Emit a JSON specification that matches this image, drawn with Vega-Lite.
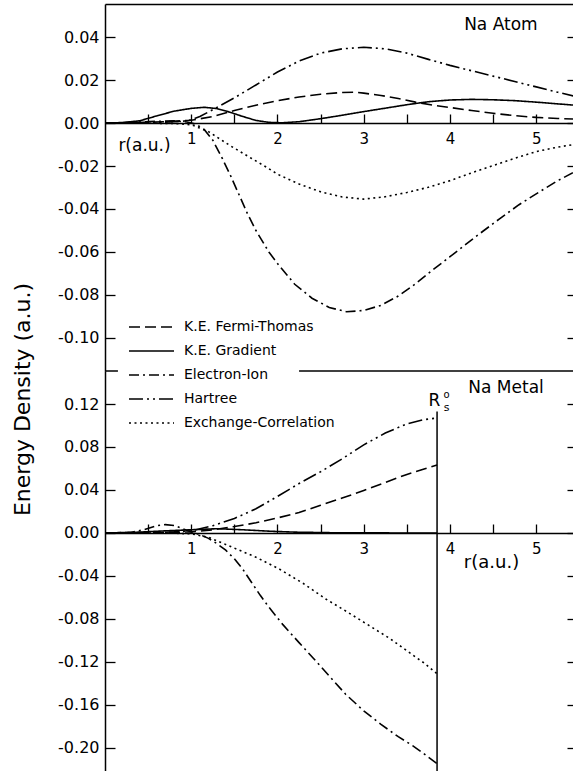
{
  "$schema": "https://vega.github.io/schema/vega-lite/v6.json",
  "background": "white",
  "padding": {"left": 11, "top": 4, "right": 0, "bottom": 0},
  "spacing": 0,
  "bounds": "flush",
  "config": {
    "font": "DejaVu Sans",
    "view": {"stroke": null},
    "axis": {"grid": false, "domainColor": "black", "tickColor": "black", "labelColor": "black", "titleColor": "black", "labelFont": "DejaVu Sans", "titleFont": "DejaVu Sans", "titleFontWeight": "normal", "domainWidth": 1.5, "tickWidth": 1.3, "labelFlush": false, "labelOverlap": false},
    "text": {"font": "DejaVu Sans", "fill": "black", "fontWeight": "normal"}
  },
  "datasets": {
    "atom": [
      {"s": "K.E. Fermi-Thomas", "r": 0, "e": 0}, {"s": "K.E. Fermi-Thomas", "r": 0.4, "e": 0.0002}, {"s": "K.E. Fermi-Thomas", "r": 0.7, "e": 0.0006}, {"s": "K.E. Fermi-Thomas", "r": 1.0, "e": 0.0013}, {"s": "K.E. Fermi-Thomas", "r": 1.25, "e": 0.003}, {"s": "K.E. Fermi-Thomas", "r": 1.5, "e": 0.0058}, {"s": "K.E. Fermi-Thomas", "r": 1.75, "e": 0.0083}, {"s": "K.E. Fermi-Thomas", "r": 2.0, "e": 0.0104}, {"s": "K.E. Fermi-Thomas", "r": 2.25, "e": 0.0121}, {"s": "K.E. Fermi-Thomas", "r": 2.5, "e": 0.0134}, {"s": "K.E. Fermi-Thomas", "r": 2.75, "e": 0.0142}, {"s": "K.E. Fermi-Thomas", "r": 2.9, "e": 0.0143}, {"s": "K.E. Fermi-Thomas", "r": 3.0, "e": 0.0139}, {"s": "K.E. Fermi-Thomas", "r": 3.2, "e": 0.0128}, {"s": "K.E. Fermi-Thomas", "r": 3.4, "e": 0.0114}, {"s": "K.E. Fermi-Thomas", "r": 3.6, "e": 0.0097}, {"s": "K.E. Fermi-Thomas", "r": 3.8, "e": 0.0083}, {"s": "K.E. Fermi-Thomas", "r": 4.0, "e": 0.0072}, {"s": "K.E. Fermi-Thomas", "r": 4.25, "e": 0.0058}, {"s": "K.E. Fermi-Thomas", "r": 4.5, "e": 0.0045}, {"s": "K.E. Fermi-Thomas", "r": 4.75, "e": 0.0034}, {"s": "K.E. Fermi-Thomas", "r": 5.0, "e": 0.0026}, {"s": "K.E. Fermi-Thomas", "r": 5.25, "e": 0.0021}, {"s": "K.E. Fermi-Thomas", "r": 5.47, "e": 0.0018},
      {"s": "K.E. Gradient", "r": 0, "e": 0}, {"s": "K.E. Gradient", "r": 0.2, "e": 0.0002}, {"s": "K.E. Gradient", "r": 0.4, "e": 0.001}, {"s": "K.E. Gradient", "r": 0.6, "e": 0.0033}, {"s": "K.E. Gradient", "r": 0.8, "e": 0.0055}, {"s": "K.E. Gradient", "r": 1.0, "e": 0.0068}, {"s": "K.E. Gradient", "r": 1.15, "e": 0.0073}, {"s": "K.E. Gradient", "r": 1.3, "e": 0.0067}, {"s": "K.E. Gradient", "r": 1.45, "e": 0.005}, {"s": "K.E. Gradient", "r": 1.6, "e": 0.003}, {"s": "K.E. Gradient", "r": 1.75, "e": 0.0012}, {"s": "K.E. Gradient", "r": 1.9, "e": 0.0003}, {"s": "K.E. Gradient", "r": 2.05, "e": 0.0001}, {"s": "K.E. Gradient", "r": 2.25, "e": 0.0006}, {"s": "K.E. Gradient", "r": 2.5, "e": 0.002}, {"s": "K.E. Gradient", "r": 2.75, "e": 0.0036}, {"s": "K.E. Gradient", "r": 3.0, "e": 0.0053}, {"s": "K.E. Gradient", "r": 3.25, "e": 0.0069}, {"s": "K.E. Gradient", "r": 3.5, "e": 0.0085}, {"s": "K.E. Gradient", "r": 3.75, "e": 0.0099}, {"s": "K.E. Gradient", "r": 4.0, "e": 0.0107}, {"s": "K.E. Gradient", "r": 4.25, "e": 0.011}, {"s": "K.E. Gradient", "r": 4.5, "e": 0.0108}, {"s": "K.E. Gradient", "r": 4.75, "e": 0.0104}, {"s": "K.E. Gradient", "r": 5.0, "e": 0.0097}, {"s": "K.E. Gradient", "r": 5.25, "e": 0.0089}, {"s": "K.E. Gradient", "r": 5.47, "e": 0.0082},
      {"s": "Electron-Ion", "r": 0, "e": 0}, {"s": "Electron-Ion", "r": 0.3, "e": 0.0002}, {"s": "Electron-Ion", "r": 0.6, "e": 0.0008}, {"s": "Electron-Ion", "r": 0.8, "e": 0.001}, {"s": "Electron-Ion", "r": 0.95, "e": 0.0005}, {"s": "Electron-Ion", "r": 1.05, "e": -0.0005}, {"s": "Electron-Ion", "r": 1.15, "e": -0.003}, {"s": "Electron-Ion", "r": 1.25, "e": -0.008}, {"s": "Electron-Ion", "r": 1.36, "e": -0.0165}, {"s": "Electron-Ion", "r": 1.45, "e": -0.024}, {"s": "Electron-Ion", "r": 1.55, "e": -0.033}, {"s": "Electron-Ion", "r": 1.65, "e": -0.042}, {"s": "Electron-Ion", "r": 1.75, "e": -0.05}, {"s": "Electron-Ion", "r": 1.9, "e": -0.06}, {"s": "Electron-Ion", "r": 2.02, "e": -0.0664}, {"s": "Electron-Ion", "r": 2.2, "e": -0.075}, {"s": "Electron-Ion", "r": 2.4, "e": -0.0815}, {"s": "Electron-Ion", "r": 2.6, "e": -0.0858}, {"s": "Electron-Ion", "r": 2.8, "e": -0.0878}, {"s": "Electron-Ion", "r": 3.0, "e": -0.0872}, {"s": "Electron-Ion", "r": 3.2, "e": -0.0848}, {"s": "Electron-Ion", "r": 3.4, "e": -0.0805}, {"s": "Electron-Ion", "r": 3.6, "e": -0.0748}, {"s": "Electron-Ion", "r": 3.8, "e": -0.0683}, {"s": "Electron-Ion", "r": 4.0, "e": -0.0622}, {"s": "Electron-Ion", "r": 4.3, "e": -0.0528}, {"s": "Electron-Ion", "r": 4.57, "e": -0.0447}, {"s": "Electron-Ion", "r": 4.8, "e": -0.038}, {"s": "Electron-Ion", "r": 5.03, "e": -0.0322}, {"s": "Electron-Ion", "r": 5.25, "e": -0.0268}, {"s": "Electron-Ion", "r": 5.47, "e": -0.0222},
      {"s": "Hartree", "r": 0, "e": 0}, {"s": "Hartree", "r": 0.6, "e": 0.0002}, {"s": "Hartree", "r": 0.9, "e": 0.0008}, {"s": "Hartree", "r": 1.0, "e": 0.0015}, {"s": "Hartree", "r": 1.1, "e": 0.003}, {"s": "Hartree", "r": 1.25, "e": 0.0062}, {"s": "Hartree", "r": 1.5, "e": 0.0117}, {"s": "Hartree", "r": 1.75, "e": 0.0177}, {"s": "Hartree", "r": 2.0, "e": 0.0237}, {"s": "Hartree", "r": 2.25, "e": 0.0288}, {"s": "Hartree", "r": 2.5, "e": 0.0325}, {"s": "Hartree", "r": 2.75, "e": 0.0345}, {"s": "Hartree", "r": 3.0, "e": 0.0352}, {"s": "Hartree", "r": 3.25, "e": 0.0345}, {"s": "Hartree", "r": 3.5, "e": 0.0325}, {"s": "Hartree", "r": 3.75, "e": 0.0296}, {"s": "Hartree", "r": 4.0, "e": 0.0268}, {"s": "Hartree", "r": 4.25, "e": 0.0243}, {"s": "Hartree", "r": 4.5, "e": 0.0218}, {"s": "Hartree", "r": 4.75, "e": 0.0193}, {"s": "Hartree", "r": 5.0, "e": 0.0168}, {"s": "Hartree", "r": 5.25, "e": 0.0143}, {"s": "Hartree", "r": 5.47, "e": 0.0122},
      {"s": "Exchange-Correlation", "r": 0, "e": 0}, {"s": "Exchange-Correlation", "r": 0.8, "e": -0.0002}, {"s": "Exchange-Correlation", "r": 1.0, "e": -0.0008}, {"s": "Exchange-Correlation", "r": 1.2, "e": -0.004}, {"s": "Exchange-Correlation", "r": 1.45, "e": -0.0105}, {"s": "Exchange-Correlation", "r": 1.7, "e": -0.0165}, {"s": "Exchange-Correlation", "r": 1.87, "e": -0.0205}, {"s": "Exchange-Correlation", "r": 2.0, "e": -0.0238}, {"s": "Exchange-Correlation", "r": 2.25, "e": -0.0284}, {"s": "Exchange-Correlation", "r": 2.5, "e": -0.032}, {"s": "Exchange-Correlation", "r": 2.75, "e": -0.0344}, {"s": "Exchange-Correlation", "r": 3.0, "e": -0.0354}, {"s": "Exchange-Correlation", "r": 3.25, "e": -0.0343}, {"s": "Exchange-Correlation", "r": 3.5, "e": -0.0323}, {"s": "Exchange-Correlation", "r": 3.75, "e": -0.0299}, {"s": "Exchange-Correlation", "r": 4.0, "e": -0.0268}, {"s": "Exchange-Correlation", "r": 4.25, "e": -0.0232}, {"s": "Exchange-Correlation", "r": 4.5, "e": -0.0198}, {"s": "Exchange-Correlation", "r": 4.75, "e": -0.0164}, {"s": "Exchange-Correlation", "r": 5.0, "e": -0.0133}, {"s": "Exchange-Correlation", "r": 5.25, "e": -0.0112}, {"s": "Exchange-Correlation", "r": 5.47, "e": -0.0098}
    ],
    "metal": [
      {"s": "K.E. Fermi-Thomas", "r": 0, "e": 0}, {"s": "K.E. Fermi-Thomas", "r": 0.5, "e": 0.0003}, {"s": "K.E. Fermi-Thomas", "r": 1.0, "e": 0.001}, {"s": "K.E. Fermi-Thomas", "r": 1.25, "e": 0.003}, {"s": "K.E. Fermi-Thomas", "r": 1.5, "e": 0.006}, {"s": "K.E. Fermi-Thomas", "r": 1.75, "e": 0.0095}, {"s": "K.E. Fermi-Thomas", "r": 2.0, "e": 0.014}, {"s": "K.E. Fermi-Thomas", "r": 2.25, "e": 0.019}, {"s": "K.E. Fermi-Thomas", "r": 2.5, "e": 0.0258}, {"s": "K.E. Fermi-Thomas", "r": 2.75, "e": 0.0325}, {"s": "K.E. Fermi-Thomas", "r": 3.0, "e": 0.0395}, {"s": "K.E. Fermi-Thomas", "r": 3.25, "e": 0.047}, {"s": "K.E. Fermi-Thomas", "r": 3.5, "e": 0.0545}, {"s": "K.E. Fermi-Thomas", "r": 3.7, "e": 0.0595}, {"s": "K.E. Fermi-Thomas", "r": 3.85, "e": 0.0633},
      {"s": "K.E. Gradient", "r": 0, "e": 0}, {"s": "K.E. Gradient", "r": 0.4, "e": 0.0008}, {"s": "K.E. Gradient", "r": 0.7, "e": 0.002}, {"s": "K.E. Gradient", "r": 1.0, "e": 0.003}, {"s": "K.E. Gradient", "r": 1.3, "e": 0.004}, {"s": "K.E. Gradient", "r": 1.6, "e": 0.003}, {"s": "K.E. Gradient", "r": 1.9, "e": 0.0017}, {"s": "K.E. Gradient", "r": 2.2, "e": 0.0008}, {"s": "K.E. Gradient", "r": 2.6, "e": 0.0003}, {"s": "K.E. Gradient", "r": 3.0, "e": 0.0001}, {"s": "K.E. Gradient", "r": 3.85, "e": 0},
      {"s": "Electron-Ion", "r": 0, "e": 0}, {"s": "Electron-Ion", "r": 0.3, "e": 0.0005}, {"s": "Electron-Ion", "r": 0.45, "e": 0.003}, {"s": "Electron-Ion", "r": 0.6, "e": 0.0068}, {"s": "Electron-Ion", "r": 0.7, "e": 0.0078}, {"s": "Electron-Ion", "r": 0.8, "e": 0.007}, {"s": "Electron-Ion", "r": 0.9, "e": 0.004}, {"s": "Electron-Ion", "r": 1.0, "e": 0.001}, {"s": "Electron-Ion", "r": 1.1, "e": -0.0015}, {"s": "Electron-Ion", "r": 1.2, "e": -0.005}, {"s": "Electron-Ion", "r": 1.3, "e": -0.01}, {"s": "Electron-Ion", "r": 1.4, "e": -0.016}, {"s": "Electron-Ion", "r": 1.5, "e": -0.024}, {"s": "Electron-Ion", "r": 1.6, "e": -0.034}, {"s": "Electron-Ion", "r": 1.7, "e": -0.046}, {"s": "Electron-Ion", "r": 1.8, "e": -0.058}, {"s": "Electron-Ion", "r": 1.9, "e": -0.069}, {"s": "Electron-Ion", "r": 2.06, "e": -0.085}, {"s": "Electron-Ion", "r": 2.25, "e": -0.102}, {"s": "Electron-Ion", "r": 2.41, "e": -0.116}, {"s": "Electron-Ion", "r": 2.6, "e": -0.133}, {"s": "Electron-Ion", "r": 2.79, "e": -0.15}, {"s": "Electron-Ion", "r": 3.0, "e": -0.1655}, {"s": "Electron-Ion", "r": 3.2, "e": -0.178}, {"s": "Electron-Ion", "r": 3.4, "e": -0.1895}, {"s": "Electron-Ion", "r": 3.57, "e": -0.198}, {"s": "Electron-Ion", "r": 3.7, "e": -0.2055}, {"s": "Electron-Ion", "r": 3.85, "e": -0.2145},
      {"s": "Hartree", "r": 0, "e": 0}, {"s": "Hartree", "r": 0.5, "e": 0.0003}, {"s": "Hartree", "r": 0.8, "e": 0.001}, {"s": "Hartree", "r": 1.0, "e": 0.002}, {"s": "Hartree", "r": 1.25, "e": 0.0068}, {"s": "Hartree", "r": 1.5, "e": 0.0135}, {"s": "Hartree", "r": 1.75, "e": 0.0225}, {"s": "Hartree", "r": 2.0, "e": 0.034}, {"s": "Hartree", "r": 2.25, "e": 0.046}, {"s": "Hartree", "r": 2.5, "e": 0.057}, {"s": "Hartree", "r": 2.75, "e": 0.069}, {"s": "Hartree", "r": 3.0, "e": 0.082}, {"s": "Hartree", "r": 3.25, "e": 0.093}, {"s": "Hartree", "r": 3.5, "e": 0.1015}, {"s": "Hartree", "r": 3.7, "e": 0.1055}, {"s": "Hartree", "r": 3.85, "e": 0.107},
      {"s": "Exchange-Correlation", "r": 0, "e": 0}, {"s": "Exchange-Correlation", "r": 0.8, "e": -0.0002}, {"s": "Exchange-Correlation", "r": 1.0, "e": -0.0008}, {"s": "Exchange-Correlation", "r": 1.2, "e": -0.004}, {"s": "Exchange-Correlation", "r": 1.44, "e": -0.012}, {"s": "Exchange-Correlation", "r": 1.75, "e": -0.0225}, {"s": "Exchange-Correlation", "r": 2.02, "e": -0.0335}, {"s": "Exchange-Correlation", "r": 2.3, "e": -0.047}, {"s": "Exchange-Correlation", "r": 2.56, "e": -0.0614}, {"s": "Exchange-Correlation", "r": 2.8, "e": -0.073}, {"s": "Exchange-Correlation", "r": 3.06, "e": -0.086}, {"s": "Exchange-Correlation", "r": 3.3, "e": -0.098}, {"s": "Exchange-Correlation", "r": 3.56, "e": -0.113}, {"s": "Exchange-Correlation", "r": 3.7, "e": -0.121}, {"s": "Exchange-Correlation", "r": 3.85, "e": -0.131}
    ]
  },
  "resolve": {"scale": {"x": "independent", "y": "independent", "strokeDash": "independent"}},
  "vconcat": [
    {
      "width": 472,
      "height": 367,
      "resolve": {"axis": {"x": "independent", "y": "independent"}},
      "layer": [
        {
          "data": {"name": "atom"},
          "mark": {"type": "line", "clip": true, "strokeWidth": 1.6, "color": "black"},
          "encoding": {
            "x": {"field": "r", "type": "quantitative", "scale": {"domain": [0, 5.4725], "nice": false, "zero": false},
              "axis": {"orient": "bottom", "offset": -248, "values": [0.5, 1, 1.5, 2, 2.5, 3, 3.5, 4, 4.5, 5], "labelExpr": "datum.value % 1 == 0 ? format(datum.value, 'd') : ''", "tickSize": -9, "labelPadding": 17, "labelFontSize": 15, "title": "r(a.u.)", "titleX": 39, "titleY": 22, "titleAlign": "center", "titleBaseline": "middle", "titleFontSize": 17}},
            "y": {"field": "e", "type": "quantitative", "scale": {"domain": [-0.11535, 0.05535], "nice": false, "zero": false},
              "axis": {"orient": "left", "values": [-0.1, -0.08, -0.06, -0.04, -0.02, 0, 0.02, 0.04], "labelExpr": "replace(format(datum.value, '.2f'), '\u2212', '-')", "tickSize": -10, "labelPadding": 16, "labelFontSize": 16, "title": "Energy Density (a.u.)", "titleX": -83, "titleY": 395, "titleAngle": -90, "titleAlign": "center", "titleBaseline": "middle", "titleFontSize": 22}},
            "strokeDash": {"field": "s", "type": "nominal",
              "scale": {"domain": ["K.E. Fermi-Thomas", "K.E. Gradient", "Electron-Ion", "Hartree", "Exchange-Correlation"], "range": [[11, 5], [1, 0], [10, 4, 2, 4], [14, 4, 2, 4, 2, 4], [2, 3.5]]},
              "legend": null}
          }
        },
        {
          "data": {"values": [{}]},
          "mark": {"type": "text", "text": "Na Atom", "fontSize": 17, "fill": "black"},
          "encoding": {
            "x": {"datum": 4.59, "type": "quantitative", "axis": {"orient": "top", "ticks": false, "labels": false, "domain": true, "title": null}},
            "y": {"datum": 0.0456, "type": "quantitative", "axis": {"orient": "right", "values": [-0.1, -0.08, -0.06, -0.04, -0.02, 0, 0.02, 0.04], "tickSize": -10, "labels": false, "domain": false, "title": null}}
          }
        },
        {
          "data": {"values": [{}]},
          "mark": {"type": "rule", "color": "black", "strokeWidth": 1.5},
          "encoding": {
            "x": {"datum": 0, "type": "quantitative", "axis": null},
            "x2": {"datum": 0.15},
            "y": {"datum": -0.11535, "type": "quantitative", "axis": null}
          }
        },
        {
          "data": {"values": [{}]},
          "mark": {"type": "rule", "color": "black", "strokeWidth": 1.5},
          "encoding": {
            "x": {"datum": 2.25, "type": "quantitative", "axis": null},
            "x2": {"datum": 5.4725},
            "y": {"datum": -0.11535, "type": "quantitative", "axis": null}
          }
        }
      ]
    },
    {
      "width": 472,
      "height": 403,
      "resolve": {"axis": {"y": "independent"}},
      "layer": [
        {
          "data": {"name": "metal"},
          "mark": {"type": "line", "clip": true, "strokeWidth": 1.6, "color": "black"},
          "encoding": {
            "x": {"field": "r", "type": "quantitative", "scale": {"domain": [0, 5.4725], "nice": false, "zero": false},
              "axis": {"orient": "bottom", "offset": -241, "values": [0.5, 1, 1.5, 2, 2.5, 3, 3.5, 4, 4.5, 5], "labelExpr": "datum.value % 1 == 0 ? format(datum.value, 'd') : ''", "tickSize": -9, "labelPadding": 17, "labelFontSize": 15, "title": "r(a.u.)", "titleX": 386, "titleY": 29, "titleAlign": "center", "titleBaseline": "middle", "titleFontSize": 18}},
            "y": {"field": "e", "type": "quantitative", "scale": {"domain": [-0.2242, 0.1507], "nice": false, "zero": false},
              "axis": {"orient": "left", "values": [-0.2, -0.16, -0.12, -0.08, -0.04, 0, 0.04, 0.08, 0.12], "labelExpr": "replace(format(datum.value, '.2f'), '\u2212', '-')", "tickSize": -10, "labelPadding": 16, "labelFontSize": 16, "title": null}},
            "strokeDash": {"field": "s", "type": "nominal",
              "scale": {"domain": ["K.E. Fermi-Thomas", "K.E. Gradient", "Electron-Ion", "Hartree", "Exchange-Correlation"], "range": [[11, 5], [1, 0], [10, 4, 2, 4], [14, 4, 2, 4, 2, 4], [2, 3.5]]},
              "legend": {"orient": "none", "legendX": 23, "legendY": -56, "title": null, "symbolType": "stroke", "symbolSize": 2025, "symbolStrokeWidth": 1.6, "symbolStrokeColor": "black", "labelFontSize": 14, "labelFont": "DejaVu Sans", "labelColor": "black", "labelOffset": 9, "rowPadding": 0, "clipHeight": 24, "padding": 0}}
          }
        },
        {
          "data": {"values": [{}]},
          "mark": {"type": "rule", "color": "black", "strokeWidth": 1.5},
          "encoding": {
            "x": {"datum": 3.85, "type": "quantitative"},
            "y": {"datum": 0.113, "type": "quantitative", "axis": null},
            "y2": {"datum": -0.2242}
          }
        },
        {
          "data": {"values": [{}]},
          "mark": {"type": "text", "text": "R", "fontSize": 17, "fill": "black"},
          "encoding": {"x": {"datum": 3.82, "type": "quantitative"}, "y": {"datum": 0.1228, "type": "quantitative", "axis": null}}
        },
        {
          "data": {"values": [{}]},
          "mark": {"type": "text", "text": "o", "fontSize": 10, "fill": "black"},
          "encoding": {"x": {"datum": 3.96, "type": "quantitative"}, "y": {"datum": 0.1285, "type": "quantitative", "axis": null}}
        },
        {
          "data": {"values": [{}]},
          "mark": {"type": "text", "text": "s", "fontSize": 11, "fill": "black"},
          "encoding": {"x": {"datum": 3.96, "type": "quantitative"}, "y": {"datum": 0.1165, "type": "quantitative", "axis": null}}
        },
        {
          "data": {"values": [{}]},
          "mark": {"type": "text", "text": "Na Metal", "fontSize": 17, "fill": "black"},
          "encoding": {
            "x": {"datum": 4.65, "type": "quantitative"},
            "y": {"datum": 0.1349, "type": "quantitative", "axis": {"orient": "right", "values": [-0.2, -0.16, -0.12, -0.08, -0.04, 0, 0.04, 0.08, 0.12], "tickSize": -10, "labels": false, "domain": false, "title": null}}
          }
        }
      ]
    }
  ]
}
